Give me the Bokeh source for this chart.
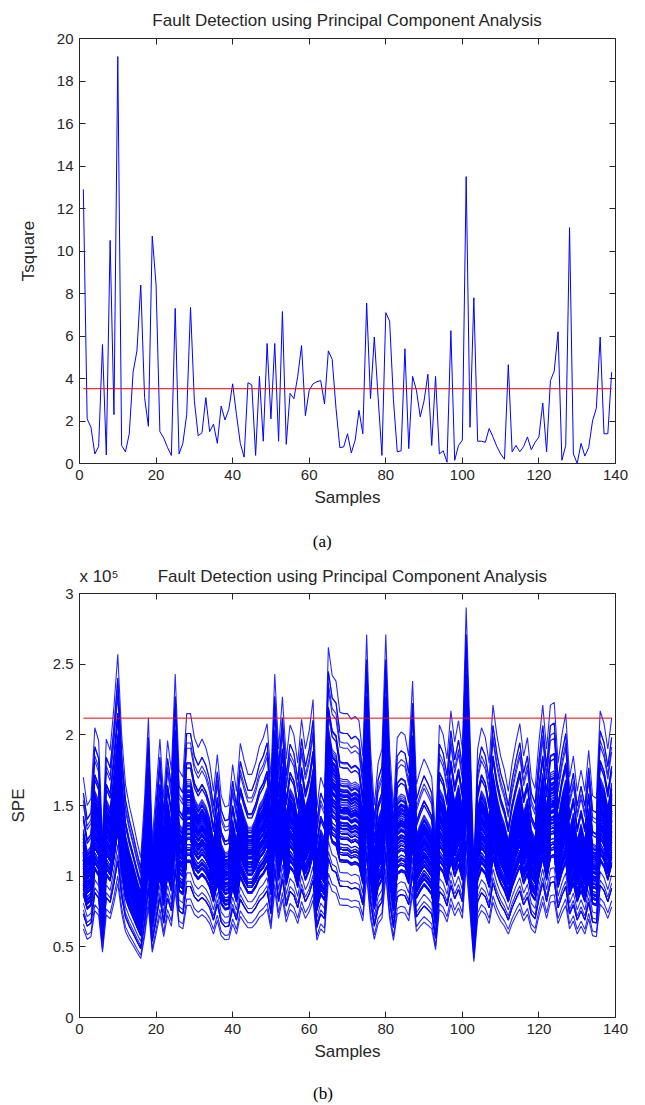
import numpy as np
from bokeh.plotting import figure
from bokeh.models import LinearAxis, Range1d, FixedTicker
from bokeh.layouts import column
from bokeh.embed import file_html
from bokeh.resources import INLINE

samples = list(range(1, 140))

tsquare = [12.9, 2.1, 1.7, 0.45, 0.8, 5.6, 0.4, 10.5, 2.3, 19.15,
           0.85, 0.55, 1.4, 4.3, 5.3, 8.4, 3.1, 1.75, 10.7, 8.4,
           1.5, 1.2, 0.75, 0.38, 7.3, 0.45, 0.95, 2.3, 7.35, 2.95,
           1.3, 1.45, 3.1, 1.5, 1.85, 0.95, 2.7, 2.05, 2.55, 3.75,
           2.3, 0.95, 0.3, 3.8, 3.7, 0.38, 4.1, 1.05, 5.65, 2.1,
           5.65, 1.05, 7.15, 0.9, 3.3, 3.05, 4.1, 5.55, 2.25, 3.45,
           3.75, 3.85, 3.9, 2.8, 5.3, 4.9, 2.6, 0.75, 0.78, 1.4,
           0.5, 1.1, 2.5, 1.4, 7.55, 3.05, 5.95, 3.1, 0.38, 7.1,
           6.7, 3.0, 0.55, 0.6, 5.4, 0.7, 4.1, 3.45, 2.2, 2.95,
           4.2, 0.85, 4.1, 0.45, 0.6, 0.06, 6.25, 0.15, 0.85, 1.1,
           13.5, 1.7, 7.8, 1.05, 1.05, 1.0, 1.65, 1.25, 0.8, 0.45,
           0.2, 4.65, 0.55, 0.85, 0.55, 0.8, 1.25, 0.65, 1.0, 1.25,
           2.85, 0.55, 3.9, 4.35, 6.2, 0.15, 0.85, 11.1, 0.45, 0.0,
           0.95, 0.35, 0.75, 2.0, 2.6, 5.95, 1.4, 1.4, 4.3]
t2_limit = 3.52

# upper envelope of the SPE bundle per sample (x 1e5); the bundle is the
# symmetric residual product matrix, whose columns are scaled copies
spe_peak = [1.70, 1.50, 1.55, 2.05, 1.96, 1.25, 1.97, 1.89, 2.20, 2.57,
            2.00, 1.65, 1.50, 1.38, 1.25, 1.13, 1.55, 2.12, 1.25, 1.60,
            1.97, 1.55, 1.96, 1.75, 2.43, 1.75, 1.70, 2.15, 2.15, 1.98,
            1.91, 1.97, 1.91, 1.80, 1.60, 1.86, 1.57, 1.49, 1.50, 1.79,
            1.60, 1.94, 1.82, 1.72, 1.72, 1.80, 1.92, 1.98, 2.08, 1.70,
            2.43, 1.90, 2.27, 1.83, 2.07, 2.00, 1.80, 2.11, 1.90, 2.03,
            2.25, 1.48, 1.70, 1.62, 2.62, 2.42, 2.38, 2.16, 2.15, 2.15,
            2.11, 2.13, 2.10, 1.85, 2.71, 1.90, 1.50, 1.80, 1.90, 2.71,
            1.90, 1.48, 1.98, 2.02, 2.00, 1.85, 2.38, 1.65, 1.75, 1.83,
            1.77, 1.70, 1.30, 2.07, 2.00, 1.83, 2.17, 1.95, 2.10, 1.90,
            2.90, 2.00, 1.07, 1.90, 2.05, 1.98, 1.80, 2.21, 2.00, 1.85,
            1.75, 1.60, 1.80, 1.95, 2.08, 1.85, 1.98, 1.70, 1.62, 1.95,
            2.21, 1.90, 2.21, 2.23, 1.80, 2.00, 2.15, 1.70, 1.85, 1.60,
            1.75, 1.60, 1.89, 1.57, 1.55, 2.17, 2.08, 1.90, 2.12]
spe_limit = 2.118  # x 1e5
spe_scale = 1e5

title_text = "Fault Detection using Principal Component Analysis"
x_ticks = [0, 20, 40, 60, 80, 100, 120, 140]
t2_ticks = [0, 2, 4, 6, 8, 10, 12, 14, 16, 18, 20]
spe_ticks = [0, 50000, 100000, 150000, 200000, 250000, 300000]
spe_tick_labels = ["0", "0.5", "1", "1.5", "2", "2.5", "3"]

TXT = "#262626"
FONT = "Liberation Sans"
BLUE = "#0000ff"
RED = "#ff0000"


def style(p, xl, yl, ylab_standoff):
    p.outline_line_color = TXT
    p.outline_line_width = 1
    p.grid.visible = False
    p.background_fill_color = "white"
    p.border_fill_color = "white"
    for ax in (p.xaxis[0], p.yaxis[0]):
        ax.axis_line_color = TXT
        ax.major_tick_line_color = TXT
        ax.major_tick_in = 6
        ax.major_tick_out = 0
        ax.minor_tick_in = 0
        ax.minor_tick_out = 0
        ax.major_label_text_font = FONT
        ax.major_label_text_font_size = "15px"
        ax.major_label_text_color = TXT
        ax.axis_label_text_font = FONT
        ax.axis_label_text_font_size = "17px"
        ax.axis_label_text_font_style = "normal"
        ax.axis_label_text_color = TXT
    p.xaxis[0].axis_label = xl
    p.yaxis[0].axis_label = yl
    p.xaxis[0].major_label_standoff = 6
    p.yaxis[0].major_label_standoff = 6
    p.xaxis[0].axis_label_standoff = 5
    p.yaxis[0].axis_label_standoff = ylab_standoff


def add_box_ticks(p, xticks, yticks):
    top = LinearAxis(ticker=FixedTicker(ticks=xticks))
    right = LinearAxis(ticker=FixedTicker(ticks=yticks))
    for ax in (top, right):
        ax.axis_line_color = None
        ax.major_tick_line_color = TXT
        ax.major_tick_in = 6
        ax.major_tick_out = 0
        ax.minor_tick_in = 0
        ax.minor_tick_out = 0
        ax.major_label_text_color = None
        ax.major_label_text_font_size = "1px"
        ax.major_label_standoff = 0
    p.add_layout(top, "above")
    p.add_layout(right, "right")


def text_row(p, side, positions, texts, font, size, color, standoff):
    # a label-only axis row, used for texts outside the plot box
    ax = LinearAxis(ticker=FixedTicker(ticks=positions),
                    major_label_overrides=dict(zip(positions, texts)))
    ax.axis_line_color = None
    ax.major_tick_line_color = None
    ax.minor_tick_line_color = None
    ax.major_label_text_font = font
    ax.major_label_text_font_size = size
    ax.major_label_text_color = color
    ax.major_label_standoff = standoff
    p.add_layout(ax, side)


# ---------------- panel (a) ----------------
p1 = figure(width=645, height=558, output_backend="svg", toolbar_location=None,
            x_range=Range1d(0, 140), y_range=Range1d(0, 20),
            min_border_left=79, min_border_right=25, min_border_top=37,
            min_border_bottom=95, title=title_text)
style(p1, "Samples", "Tsquare", 16)
p1.title.text_font = FONT
p1.title.text_font_size = "17px"
p1.title.text_font_style = "normal"
p1.title.text_color = TXT
p1.title.align = "center"
p1.title.standoff = 17
p1.xaxis[0].ticker = FixedTicker(ticks=x_ticks)
p1.yaxis[0].ticker = FixedTicker(ticks=t2_ticks)
add_box_ticks(p1, x_ticks, t2_ticks)
p1.line(samples, tsquare, line_color=BLUE, line_width=1)
p1.line([samples[0], samples[-1]], [t2_limit, t2_limit], line_color=RED, line_width=1)
text_row(p1, "below", [63.4], ["(a)"], "Liberation Serif", "17px", "black", 16)

# ---------------- panel (b) ----------------
peak = np.array(spe_peak)
mat = np.outer(peak, peak) / peak.max() * spe_scale
xs = [samples for _ in range(len(samples))]
ys = [list(mat[:, j]) for j in range(len(samples))]

p2 = figure(width=645, height=547, output_backend="svg", toolbar_location=None,
            x_range=Range1d(0, 140), y_range=Range1d(0, 300000),
            min_border_left=78, min_border_right=30, min_border_top=35,
            min_border_bottom=88)
style(p2, "Samples", "SPE", 22)
p2.xaxis[0].ticker = FixedTicker(ticks=x_ticks)
p2.yaxis[0].ticker = FixedTicker(ticks=spe_ticks)
p2.yaxis[0].major_label_overrides = dict(zip(spe_ticks, spe_tick_labels))
add_box_ticks(p2, x_ticks, spe_ticks)
# header row: exponent marker and title, sharing one text row above the box
text_row(p2, "above", [5.1, 71.4], ["x 10\u2075", title_text], FONT, "17px", TXT, 2)

p2.multi_line(xs, ys, line_color=BLUE, line_width=1.1, line_alpha=0.85)
p2.line([samples[0], samples[-1]], [spe_limit * spe_scale] * 2, line_color=RED, line_width=1)
text_row(p2, "below", [63.6], ["(b)"], "Liberation Serif", "17px", "black", 14)

layout = column(p1, p2, spacing=0)
open("out.html", "w").write(file_html(layout, INLINE))
